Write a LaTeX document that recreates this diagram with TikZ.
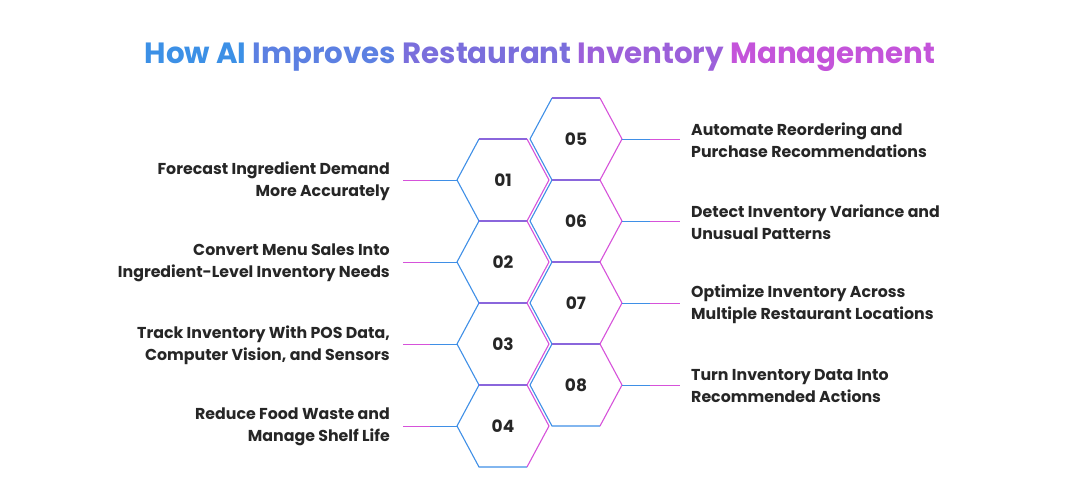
\documentclass[tikz,border=0pt]{standalone}
\usepackage{fontspec}
\setmainfont{Poppins}
\definecolor{gblue}{HTML}{3F8FE6}
\definecolor{gpurp}{HTML}{8A66DC}
\definecolor{gmag}{HTML}{D652DA}
\definecolor{t1}{HTML}{3C90E6}
\definecolor{t2}{HTML}{5C80E2}
\definecolor{t3}{HTML}{7A6EDC}
\definecolor{t4}{HTML}{9C60DA}
\definecolor{t5}{HTML}{C454DA}
\begin{document}
\begin{tikzpicture}[x=1pt,y=-1pt,
  lbl/.style={font=\fontsize{15.8}{22}\selectfont\bfseries, text=black!85, inner sep=0pt},
  num/.style={font=\fontsize{17}{20}\selectfont\bfseries, text=black!85}]
\useasboundingbox (0,0) rectangle (1080,488);
\newcommand\hexa[3]{%
  \coordinate (#3) at (#1,#2);
  \draw[gblue,line width=1.1pt] (#1+24,#2+41) -- (#1-24,#2+41) -- (#1-46,#2) -- (#1-24,#2-41);
  \draw[gpurp,line width=1.1pt] (#1-24,#2-41) -- (#1+24,#2-41);
  \draw[gmag,line width=1.1pt] (#1+24,#2-41) -- (#1+46,#2) -- (#1+24,#2+41);
}
\foreach \n/\y in {01/180,02/262,03/344,04/426}{
  \hexa{503}{\y}{h\n}
  \draw[gblue,line width=1pt] (457,\y) -- (430,\y);
  \draw[gmag,line width=1pt] (430,\y) -- (403,\y);
  \node[num] at (503,\y) {\n};
}
\foreach \n/\y in {05/139,06/221,07/303,08/385}{
  \hexa{576}{\y}{h\n}
  \draw[gblue,line width=1pt] (622,\y) -- (650,\y);
  \draw[gmag,line width=1pt] (650,\y) -- (680,\y);
  \node[num] at (576,\y) {\n};
}
\node[font=\fontsize{29.3}{34}\selectfont\bfseries] (t) at (540,57) {\textcolor{t1}{How AI} \textcolor{t2}{Improves} \textcolor{t3}{Restaurant} \textcolor{t4}{Inventory} \textcolor{t5}{Management}};
\node[lbl,align=right,anchor=east] (l1) at (390,181) {Forecast Ingredient Demand\\More Accurately};
\node[lbl,align=right,anchor=east] (l2) at (390,263) {Convert Menu Sales Into\\Ingredient-Level Inventory Needs};
\node[lbl,align=right,anchor=east] (l3) at (390,345) {Track Inventory With POS Data,\\Computer Vision, and Sensors};
\node[lbl,align=right,anchor=east] (l4) at (390,427) {Reduce Food Waste and\\Manage Shelf Life};
\node[lbl,align=left,anchor=west] (r5) at (691,140) {Automate Reordering and\\Purchase Recommendations};
\node[lbl,align=left,anchor=west] (r6) at (691,222) {Detect Inventory Variance and\\Unusual Patterns};
\node[lbl,align=left,anchor=west] (r7) at (691,304) {Optimize Inventory Across\\Multiple Restaurant Locations};
\node[lbl,align=left,anchor=west] (r8) at (691,386) {Turn Inventory Data Into\\Recommended Actions};
\end{tikzpicture}
\end{document}
